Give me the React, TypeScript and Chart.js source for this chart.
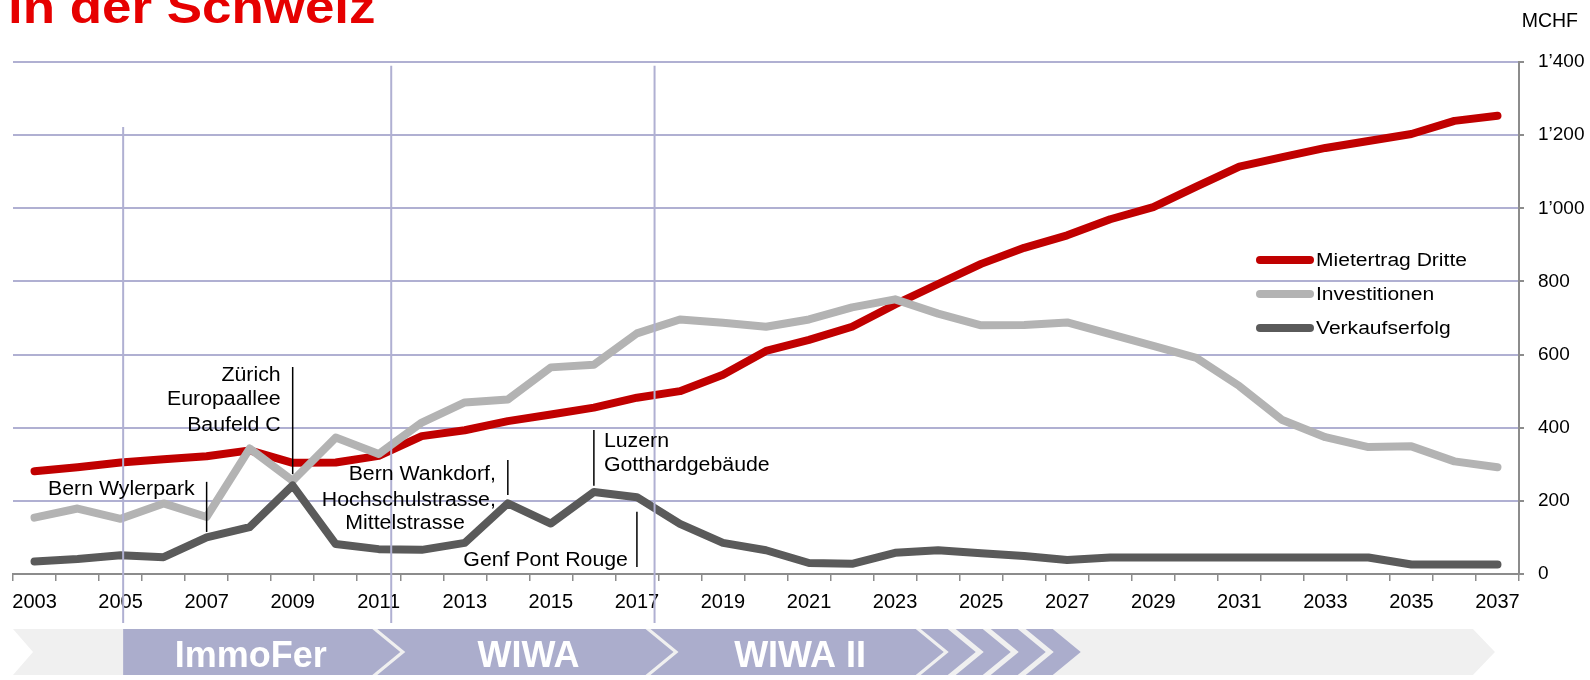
import React, { useEffect, useRef } from 'react';
import { Chart, registerables } from 'chart.js';

Chart.register(...registerables);

// ---------- data ----------
const YEARS = [
  '2003', '2004', '2005', '2006', '2007', '2008', '2009', '2010', '2011', '2012',
  '2013', '2014', '2015', '2016', '2017', '2018', '2019', '2020', '2021', '2022',
  '2023', '2024', '2025', '2026', '2027', '2028', '2029', '2030', '2031', '2032',
  '2033', '2034', '2035', '2036', '2037',
];

const MIETERTRAG = [
  281, 292, 305, 314, 322, 338, 304, 305, 323, 377,
  393, 418, 436, 455, 482, 500, 545, 610, 640, 676,
  737, 793, 848, 892, 926, 970, 1003, 1059, 1114, 1140,
  1165, 1184, 1203, 1239, 1253,
];

const INVESTITIONEN = [
  154, 179, 151, 193, 156, 343, 255, 373, 328, 414,
  469, 477, 565, 572, 658, 696, 687, 676, 696, 729,
  751, 712, 680, 681, 688, 656, 624, 591, 514, 421,
  374, 347, 349, 308, 292,
];

const VERKAUFSERFOLG = [
  34, 41, 51, 46, 100, 128, 242, 82, 68, 66,
  85, 193, 138, 224, 210, 137, 85, 65, 30, 28,
  58, 65, 57, 49, 38, 45, 45, 45, 45, 45,
  45, 45, 26, 26, 26,
];

const SERIES_NAMES = ['Mietertrag Dritte', 'Investitionen', 'Verkaufserfolg'];
const Y_MIN = 0;
const Y_MAX = 1400;
const Y_STEP = 200;

const TITLE = 'in der Schweiz';
const UNIT = 'MCHF';

// phases of the bottom band (category-index positions)
const PHASE_LABELS = ['ImmoFer', 'WIWA', 'WIWA II'];
const PHASE_ENDS = [7.85, 14.2, 20.48];
const PHASE_START = 2.06;
const PHASE_LINES = [2.06, 8.29, 14.41];
const PHASE_LINE_TOPS = [1222, 1390, 1390];

// annotations (leader at a category, text lines)
const ANNOTATION_TEXTS = [
  ['Bern Wylerpark'],
  ['Zürich', 'Europaallee', 'Baufeld C'],
  ['Bern Wankdorf,', 'Hochschulstrasse,', 'Mittelstrasse'],
  ['Luzern', 'Gotthardgebäude'],
  ['Genf Pont Rouge'],
];
const ANNOTATION_CATS = [4, 6, 11, 13, 14];
const ANNOTATION_LEADERS = [[252, 115], [566, 273], [312, 216], [394, 241], [170, 19]];
const ANNOTATION_TEXT_Y = [[230], [544, 476, 407], [271, 202, 137], [361, 298], [38]];

// ---------- styles ----------
const FONT = '"Liberation Sans", Arial, Helvetica, sans-serif';
const RED = '#c00000';
const LIGHT = '#b3b3b3';
const DARK = '#5a5a5a';
const GRID = '#b0b0d2';
const AXIS = '#8c8c8c';
const PURPLE = '#abadcc';
const BAND_GREY = '#f0f0f0';

function fmt(v: number): string {
  if (v >= 1000) {
    const th = Math.floor(v / 1000);
    const rest = String(v % 1000).padStart(3, '0');
    return th + '\u2019' + rest;
  }
  return String(v);
}

function drawText(
  ctx: CanvasRenderingContext2D,
  text: string,
  x: number,
  y: number,
  size: number,
  opts: { bold?: boolean; color?: string; align?: CanvasTextAlign; baseline?: CanvasTextBaseline; sx?: number } = {}
) {
  const sx = opts.sx ?? 1;
  ctx.save();
  ctx.font = `${opts.bold ? 'bold ' : ''}${size}px ${FONT}`;
  ctx.fillStyle = opts.color ?? '#000';
  ctx.textAlign = opts.align ?? 'left';
  ctx.textBaseline = opts.baseline ?? 'middle';
  ctx.translate(x, y);
  ctx.scale(sx, 1);
  ctx.fillText(text, 0, 0);
  ctx.restore();
}

function chevron(
  ctx: CanvasRenderingContext2D,
  xl: number,
  xr: number,
  top: number,
  bot: number,
  dl: number,
  dr: number,
  color: string
) {
  const mid = (top + bot) / 2;
  ctx.beginPath();
  ctx.moveTo(xl, top);
  ctx.lineTo(xr, top);
  ctx.lineTo(xr + dr, mid);
  ctx.lineTo(xr, bot);
  ctx.lineTo(xl, bot);
  ctx.lineTo(xl + dl, mid);
  ctx.closePath();
  ctx.fillStyle = color;
  ctx.fill();
}

const overlayPlugin = {
  id: 'overlay',
  afterDraw(chart: any) {
    const ctx: CanvasRenderingContext2D = chart.ctx;
    const xs = chart.scales.x;
    const ys = chart.scales.y;
    const area = chart.chartArea;
    const x0 = xs.getPixelForValue(0);
    const cw = xs.getPixelForValue(1) - x0;
    const xAt = (idx: number) => x0 + idx * cw;

    // title
    drawText(ctx, TITLE, 8, 23, 46, { bold: true, color: '#e60000', baseline: 'alphabetic', sx: 1.15 });
    // unit
    drawText(ctx, UNIT, 1578, 22, 19.5, { align: 'right' });

    // bottom band
    const bTop = area.bottom + 55;
    const bBot = area.bottom + 101;
    chevron(ctx, area.left, xAt(33.43), bTop, bBot, 20, 22, BAND_GREY);
    let prev = xAt(PHASE_START);
    const gap = 5;
    const depth = 28;
    PHASE_ENDS.forEach((end, i) => {
      const xl = i === 0 ? prev : prev + gap;
      const xr = xAt(end);
      const dl = i === 0 ? 0 : depth;
      chevron(ctx, xl, xr, bTop, bBot, dl, depth, PURPLE);
      const cx = (xl + dl + xr) / 2 + 3;
      drawText(ctx, PHASE_LABELS[i], cx, bBot - 8, 36, {
        bold: true,
        color: '#ffffff',
        align: 'center',
        baseline: 'alphabetic',
      });
      prev = xr;
    });
    // small trailing chevrons
    for (let k = 0; k < 4; k++) {
      const xl = prev + gap + k * 35;
      chevron(ctx, xl, xl + 27, bTop, bBot, depth, depth, PURPLE);
    }

    // phase lines
    ctx.save();
    ctx.strokeStyle = GRID;
    ctx.lineWidth = 2;
    PHASE_LINES.forEach((p, i) => {
      const x = xAt(p);
      ctx.beginPath();
      ctx.moveTo(x, ys.getPixelForValue(PHASE_LINE_TOPS[i]));
      ctx.lineTo(x, bTop - 6);
      ctx.stroke();
    });
    ctx.restore();

    // annotations
    ctx.save();
    ctx.strokeStyle = '#000';
    ctx.lineWidth = 1.5;
    ANNOTATION_TEXTS.forEach((lines, i) => {
      const lx = xAt(ANNOTATION_CATS[i]);
      const [a, b] = ANNOTATION_LEADERS[i];
      ctx.beginPath();
      ctx.moveTo(lx, ys.getPixelForValue(a));
      ctx.lineTo(lx, ys.getPixelForValue(b));
      ctx.stroke();
      lines.forEach((t, j) => {
        const y = ys.getPixelForValue(ANNOTATION_TEXT_Y[i][j]);
        if (i === 3) {
          drawText(ctx, t, lx + 10, y, 20, { align: 'left', sx: 1.065 });
        } else {
          const dx = i === 2 && j === 2 ? -43 : i === 4 ? -9 : -12;
          drawText(ctx, t, lx + dx, y, 20, { align: 'right', sx: 1.065 });
        }
      });
    });
    ctx.restore();

    // legend
    const colors = [RED, LIGHT, DARK];
    const rows = [260, 294, 328];
    ctx.save();
    ctx.lineCap = 'round';
    ctx.lineWidth = 8;
    SERIES_NAMES.forEach((name, i) => {
      ctx.strokeStyle = colors[i];
      ctx.beginPath();
      ctx.moveTo(1260, rows[i]);
      ctx.lineTo(1310, rows[i]);
      ctx.stroke();
      drawText(ctx, name, 1316, rows[i] + 1, 18, { sx: 1.17 });
    });
    ctx.restore();
  },
};

export default function App() {
  const ref = useRef<HTMLCanvasElement>(null);

  useEffect(() => {
    const canvas = ref.current;
    if (!canvas) return;
    const common = {
      borderWidth: 8,
      pointRadius: 0,
      pointHoverRadius: 0,
      tension: 0,
      borderCapStyle: 'round' as const,
      borderJoinStyle: 'round' as const,
      fill: false,
    };
    const chart = new Chart(canvas, {
      type: 'line',
      data: {
        labels: YEARS,
        datasets: [
          { ...common, label: SERIES_NAMES[0], data: MIETERTRAG, borderColor: RED, order: 3 },
          { ...common, label: SERIES_NAMES[1], data: INVESTITIONEN, borderColor: LIGHT, order: 2 },
          { ...common, label: SERIES_NAMES[2], data: VERKAUFSERFOLG, borderColor: DARK, order: 1 },
        ],
      },
      options: {
        animation: false,
        responsive: false,
        devicePixelRatio: 1,
        events: [],
        layout: { padding: { left: 13, top: 62, right: 0, bottom: 0 }, autoPadding: false },
        plugins: {
          legend: { display: false },
          tooltip: { enabled: false },
          title: { display: false },
        },
        scales: {
          x: {
            type: 'category',
            offset: true,
            grid: {
              offset: true,
              drawOnChartArea: false,
              drawTicks: true,
              tickLength: 7,
              color: AXIS,
              lineWidth: 1.5,
            },
            border: { display: true, color: AXIS, width: 2 },
            ticks: {
              autoSkip: false,
              maxRotation: 0,
              minRotation: 0,
              padding: 9,
              color: '#000',
              font: { family: FONT, size: 20 },
              callback: (_v: any, i: number) => (i % 2 === 0 ? YEARS[i] : ''),
            },
            afterFit: (scale: any) => {
              scale.height = 106;
            },
          },
          y: {
            position: 'right',
            min: Y_MIN,
            max: Y_MAX,
            grid: {
              color: GRID,
              lineWidth: 2,
              drawTicks: true,
              tickLength: 5,
              tickColor: AXIS,
            },
            border: { display: true, color: AXIS, width: 2 },
            ticks: {
              stepSize: Y_STEP,
              padding: 14,
              color: '#000',
              font: { family: FONT, size: 19 },
              callback: (v: any) => fmt(Number(v)),
            },
            afterFit: (scale: any) => {
              scale.width = 71;
            },
          },
        },
      },
      plugins: [overlayPlugin],
    } as any);
    return () => chart.destroy();
  }, []);

  return (
    <div style={{ position: 'absolute', left: 0, top: 0, width: 1590, height: 680, background: '#ffffff' }}>
      <canvas ref={ref} width={1590} height={680} style={{ display: 'block', width: 1590, height: 680 }} />
    </div>
  );
}
